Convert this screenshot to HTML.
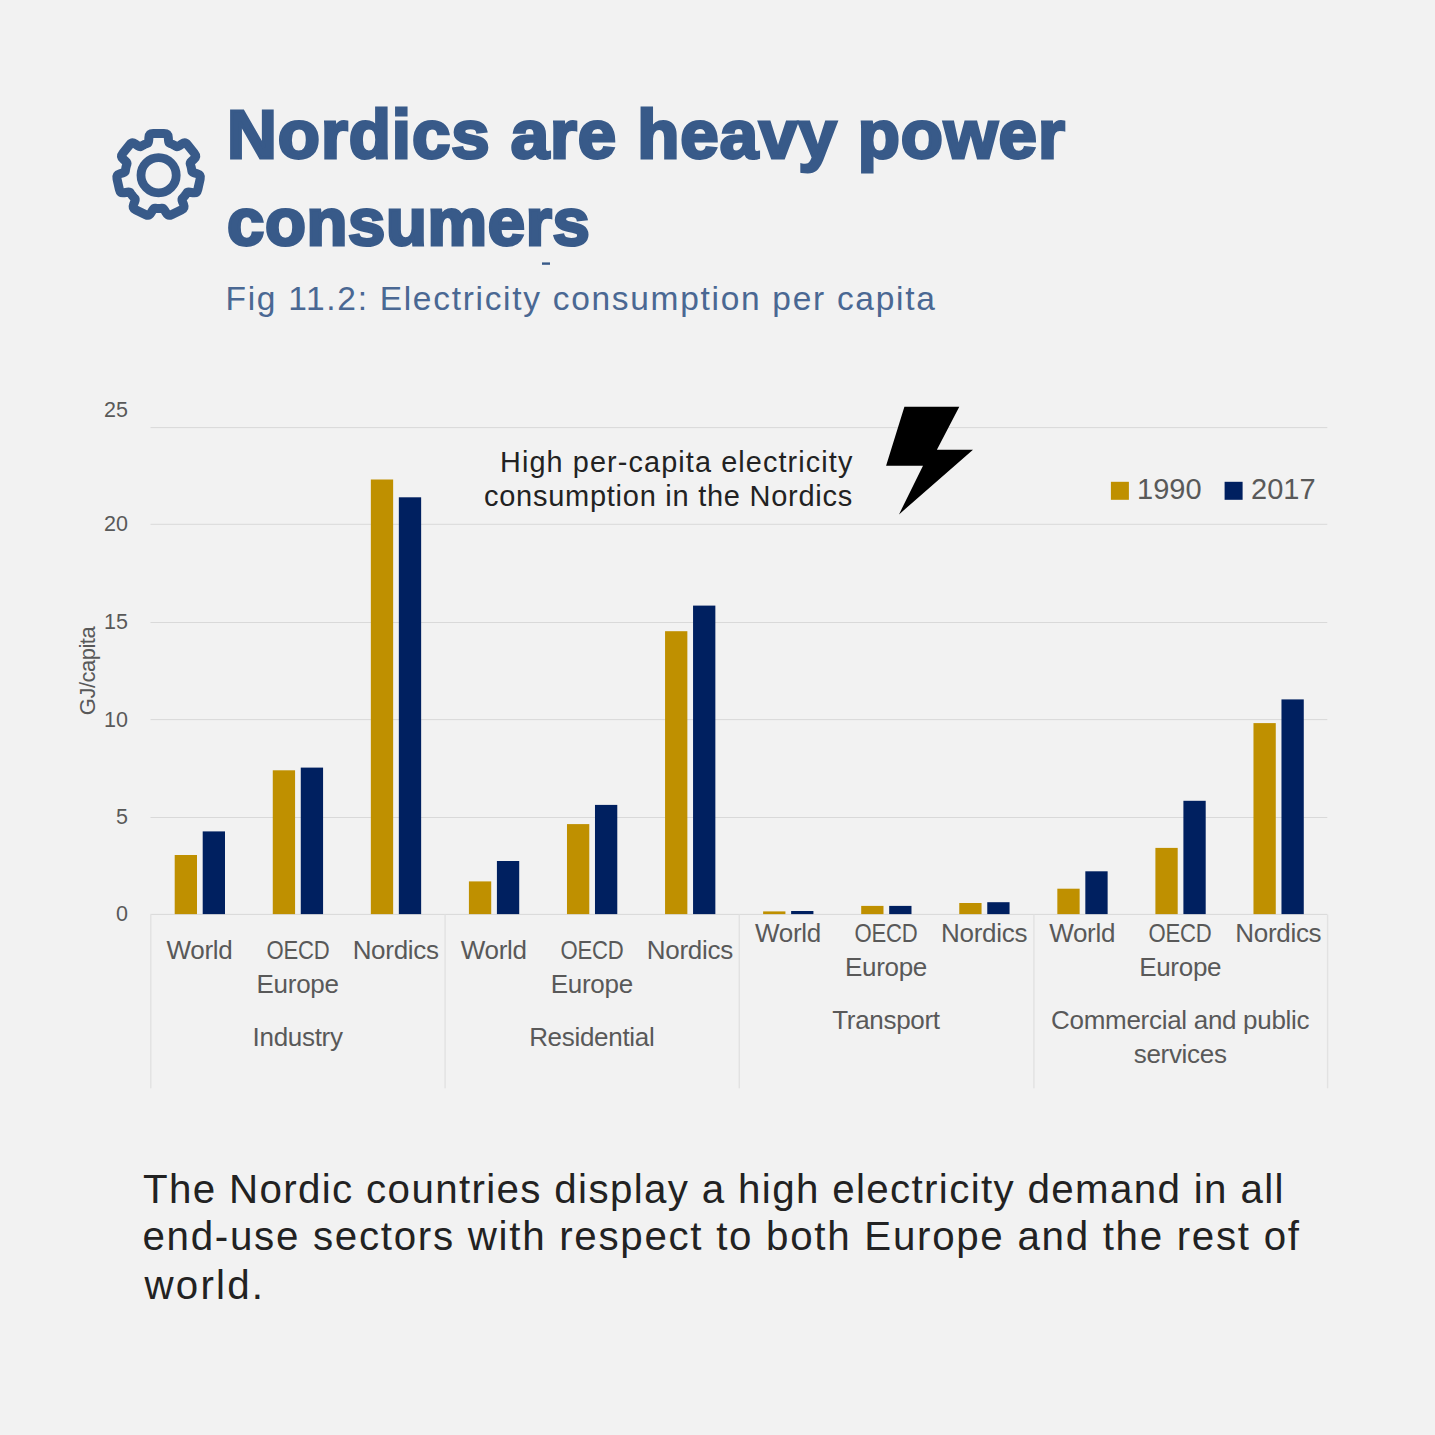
<!DOCTYPE html>
<html><head><meta charset="utf-8"><style>
html,body{margin:0;padding:0;}
body{width:1435px;height:1435px;background:#F2F2F2;position:relative;overflow:hidden;font-family:"Liberation Sans", sans-serif;}
div{font-family:"Liberation Sans", sans-serif;}
</style></head><body>
<svg style="position:absolute;left:0;top:0" width="1435" height="400" viewBox="0 0 1435 400"><path d="M147.40 143.35 Q148.53 142.95 148.70 140.46 L148.91 137.45 Q149.18 133.46 153.18 133.46 L164.02 133.46 Q168.02 133.46 168.29 137.45 L168.50 140.46 Q168.67 142.95 169.80 143.35 L170.94 143.75 L173.14 144.72 L175.26 145.84 L176.28 146.47 Q177.30 147.10 179.36 145.68 L181.84 143.97 Q185.13 141.70 187.63 144.83 L194.38 153.29 Q196.87 156.42 193.93 159.13 L191.70 161.17 Q189.86 162.86 190.25 163.99 L190.64 165.13 L191.26 167.45 L191.71 169.80 L191.85 171.00 Q191.99 172.19 194.38 172.91 L197.27 173.78 Q201.10 174.94 200.21 178.84 L197.80 189.40 Q196.91 193.30 192.96 192.68 L189.98 192.22 Q187.51 191.83 186.86 192.84 L186.22 193.86 L184.79 195.79 L183.23 197.61 L182.38 198.46 Q181.54 199.31 182.46 201.64 L183.58 204.44 Q185.07 208.15 181.46 209.89 L171.70 214.59 Q168.10 216.32 166.12 212.85 L164.62 210.23 Q163.39 208.06 162.19 208.19 L161.00 208.31 L158.60 208.40 L156.20 208.31 L155.01 208.19 Q153.81 208.06 152.58 210.23 L151.08 212.85 Q149.10 216.32 145.50 214.59 L135.74 209.89 Q132.13 208.15 133.62 204.44 L134.74 201.64 Q135.66 199.31 134.82 198.46 L133.97 197.61 L132.41 195.79 L130.98 193.86 L130.34 192.84 Q129.69 191.83 127.22 192.22 L124.24 192.68 Q120.29 193.30 119.40 189.40 L116.99 178.84 Q116.10 174.94 119.93 173.78 L122.82 172.91 Q125.21 172.19 125.35 171.00 L125.49 169.80 L125.94 167.45 L126.56 165.13 L126.95 163.99 Q127.34 162.86 125.50 161.17 L123.27 159.13 Q120.33 156.42 122.82 153.29 L129.57 144.83 Q132.07 141.70 135.36 143.97 L137.84 145.68 Q139.90 147.10 140.92 146.47 L141.94 145.84 L144.06 144.72 L146.26 143.75 Z" fill="none" stroke="#385A89" stroke-width="9" stroke-linejoin="round"/><circle cx="158.6" cy="175.2" r="17.6" fill="none" stroke="#385A89" stroke-width="8.8"/><rect x="542" y="262.4" width="8" height="2.4" fill="#385A89"/></svg>
<div style="position:absolute;top:99.79px;font-size:69px;line-height:69px;color:#385A89;font-weight:700;letter-spacing:0.95px;white-space:nowrap;left:227.00px;-webkit-text-stroke:3px #385A89;">Nordics are heavy power</div>
<div style="position:absolute;top:188.28px;font-size:67px;line-height:67px;color:#385A89;font-weight:700;letter-spacing:0.66px;white-space:nowrap;left:227.00px;-webkit-text-stroke:3px #385A89;">consumers</div>
<div style="position:absolute;top:281.64px;font-size:33.5px;line-height:33.5px;color:#4A6893;font-weight:400;letter-spacing:1.7px;white-space:nowrap;left:225.50px;">Fig 11.2: Electricity consumption per capita</div>
<div style="position:absolute;top:1169.59px;font-size:40.3px;line-height:40.3px;color:#222;font-weight:400;letter-spacing:1.35px;white-space:nowrap;left:143.00px;">The Nordic countries display a high electricity demand in all</div>
<div style="position:absolute;top:1217.39px;font-size:40.3px;line-height:40.3px;color:#222;font-weight:400;letter-spacing:1.71px;white-space:nowrap;left:142.50px;">end-use sectors with respect to both Europe and the rest of</div>
<div style="position:absolute;top:1265.59px;font-size:40.3px;line-height:40.3px;color:#222;font-weight:400;letter-spacing:2.2px;white-space:nowrap;left:144.50px;">world.</div>
<div style="position:absolute;top:448.42px;font-size:28.8px;line-height:28.8px;color:#222;font-weight:400;letter-spacing:1.12px;white-space:nowrap;right:581.50px;text-align:right;">High per-capita electricity</div>
<div style="position:absolute;top:481.75px;font-size:29px;line-height:29px;color:#222;font-weight:400;letter-spacing:0.74px;white-space:nowrap;right:582.00px;text-align:right;">consumption in the Nordics</div>
<div style="position:absolute;top:475.45px;font-size:29px;line-height:29px;color:#595959;font-weight:400;letter-spacing:0px;white-space:nowrap;left:1137.00px;">1990</div>
<div style="position:absolute;top:475.45px;font-size:29px;line-height:29px;color:#595959;font-weight:400;letter-spacing:0px;white-space:nowrap;left:1251.00px;">2017</div>
<div style="position:absolute;top:400.30px;font-size:21.5px;line-height:21.5px;color:#595959;font-weight:400;letter-spacing:0px;white-space:nowrap;right:1307.00px;text-align:right;">25</div>
<div style="position:absolute;top:514.30px;font-size:21.5px;line-height:21.5px;color:#595959;font-weight:400;letter-spacing:0px;white-space:nowrap;right:1307.00px;text-align:right;">20</div>
<div style="position:absolute;top:611.80px;font-size:21.5px;line-height:21.5px;color:#595959;font-weight:400;letter-spacing:0px;white-space:nowrap;right:1307.00px;text-align:right;">15</div>
<div style="position:absolute;top:709.80px;font-size:21.5px;line-height:21.5px;color:#595959;font-weight:400;letter-spacing:0px;white-space:nowrap;right:1307.00px;text-align:right;">10</div>
<div style="position:absolute;top:806.80px;font-size:21.5px;line-height:21.5px;color:#595959;font-weight:400;letter-spacing:0px;white-space:nowrap;right:1307.00px;text-align:right;">5</div>
<div style="position:absolute;top:904.40px;font-size:21.5px;line-height:21.5px;color:#595959;font-weight:400;letter-spacing:0px;white-space:nowrap;right:1307.00px;text-align:right;">0</div>
<div style="position:absolute;top:937.29px;font-size:26px;line-height:26px;color:#595959;font-weight:400;letter-spacing:-0.3px;white-space:nowrap;left:139.53px;width:120px;text-align:center;">World</div>
<div style="position:absolute;top:937.29px;font-size:26px;line-height:26px;color:#595959;font-weight:400;letter-spacing:-0.3px;white-space:nowrap;left:237.61px;width:120px;text-align:center;transform:scaleX(0.85);">OECD</div>
<div style="position:absolute;top:970.99px;font-size:26px;line-height:26px;color:#595959;font-weight:400;letter-spacing:-0.3px;white-space:nowrap;left:237.61px;width:120px;text-align:center;">Europe</div>
<div style="position:absolute;top:937.29px;font-size:26px;line-height:26px;color:#595959;font-weight:400;letter-spacing:-0.3px;white-space:nowrap;left:335.67px;width:120px;text-align:center;">Nordics</div>
<div style="position:absolute;top:1024.49px;font-size:26px;line-height:26px;color:#595959;font-weight:400;letter-spacing:-0.3px;white-space:nowrap;left:147.60px;width:300px;text-align:center;">Industry</div>
<div style="position:absolute;top:937.29px;font-size:26px;line-height:26px;color:#595959;font-weight:400;letter-spacing:-0.3px;white-space:nowrap;left:433.74px;width:120px;text-align:center;">World</div>
<div style="position:absolute;top:937.29px;font-size:26px;line-height:26px;color:#595959;font-weight:400;letter-spacing:-0.3px;white-space:nowrap;left:531.80px;width:120px;text-align:center;transform:scaleX(0.85);">OECD</div>
<div style="position:absolute;top:970.99px;font-size:26px;line-height:26px;color:#595959;font-weight:400;letter-spacing:-0.3px;white-space:nowrap;left:531.80px;width:120px;text-align:center;">Europe</div>
<div style="position:absolute;top:937.29px;font-size:26px;line-height:26px;color:#595959;font-weight:400;letter-spacing:-0.3px;white-space:nowrap;left:629.88px;width:120px;text-align:center;">Nordics</div>
<div style="position:absolute;top:1024.49px;font-size:26px;line-height:26px;color:#595959;font-weight:400;letter-spacing:-0.3px;white-space:nowrap;left:441.80px;width:300px;text-align:center;">Residential</div>
<div style="position:absolute;top:920.39px;font-size:26px;line-height:26px;color:#595959;font-weight:400;letter-spacing:-0.3px;white-space:nowrap;left:727.93px;width:120px;text-align:center;">World</div>
<div style="position:absolute;top:920.39px;font-size:26px;line-height:26px;color:#595959;font-weight:400;letter-spacing:-0.3px;white-space:nowrap;left:826.00px;width:120px;text-align:center;transform:scaleX(0.85);">OECD</div>
<div style="position:absolute;top:954.49px;font-size:26px;line-height:26px;color:#595959;font-weight:400;letter-spacing:-0.3px;white-space:nowrap;left:826.00px;width:120px;text-align:center;">Europe</div>
<div style="position:absolute;top:920.39px;font-size:26px;line-height:26px;color:#595959;font-weight:400;letter-spacing:-0.3px;white-space:nowrap;left:924.07px;width:120px;text-align:center;">Nordics</div>
<div style="position:absolute;top:1007.19px;font-size:26px;line-height:26px;color:#595959;font-weight:400;letter-spacing:-0.3px;white-space:nowrap;left:736.00px;width:300px;text-align:center;">Transport</div>
<div style="position:absolute;top:920.39px;font-size:26px;line-height:26px;color:#595959;font-weight:400;letter-spacing:-0.3px;white-space:nowrap;left:1022.13px;width:120px;text-align:center;">World</div>
<div style="position:absolute;top:920.39px;font-size:26px;line-height:26px;color:#595959;font-weight:400;letter-spacing:-0.3px;white-space:nowrap;left:1120.20px;width:120px;text-align:center;transform:scaleX(0.85);">OECD</div>
<div style="position:absolute;top:954.49px;font-size:26px;line-height:26px;color:#595959;font-weight:400;letter-spacing:-0.3px;white-space:nowrap;left:1120.20px;width:120px;text-align:center;">Europe</div>
<div style="position:absolute;top:920.39px;font-size:26px;line-height:26px;color:#595959;font-weight:400;letter-spacing:-0.3px;white-space:nowrap;left:1218.27px;width:120px;text-align:center;">Nordics</div>
<div style="position:absolute;top:1007.19px;font-size:26px;line-height:26px;color:#595959;font-weight:400;letter-spacing:-0.3px;white-space:nowrap;left:1030.20px;width:300px;text-align:center;">Commercial and public</div>
<div style="position:absolute;top:1041.29px;font-size:26px;line-height:26px;color:#595959;font-weight:400;letter-spacing:-0.3px;white-space:nowrap;left:1030.20px;width:300px;text-align:center;">services</div>
<svg style="position:absolute;left:0;top:0" width="1435" height="1435" viewBox="0 0 1435 1435"><rect x="150.5" y="427.10" width="1176.80" height="1" fill="#D9D9D9"/><rect x="150.5" y="523.80" width="1176.80" height="1" fill="#D9D9D9"/><rect x="150.5" y="622.00" width="1176.80" height="1" fill="#D9D9D9"/><rect x="150.5" y="719.10" width="1176.80" height="1" fill="#D9D9D9"/><rect x="150.5" y="817.00" width="1176.80" height="1" fill="#D9D9D9"/><rect x="150.5" y="913.90" width="1176.80" height="1" fill="#D9D9D9"/><rect x="150.10" y="914.5" width="1.4" height="173.80" fill="#E2E2E2"/><rect x="444.40" y="914.5" width="1.4" height="173.80" fill="#E2E2E2"/><rect x="738.60" y="914.5" width="1.4" height="173.80" fill="#E2E2E2"/><rect x="1033.20" y="914.5" width="1.4" height="173.80" fill="#E2E2E2"/><rect x="1326.90" y="914.5" width="1.4" height="173.80" fill="#E2E2E2"/><rect x="174.70" y="855.00" width="22.3" height="59.10" fill="#BF9000"/><rect x="202.70" y="831.40" width="22.3" height="82.70" fill="#002060"/><rect x="272.77" y="770.30" width="22.3" height="143.80" fill="#BF9000"/><rect x="300.77" y="767.60" width="22.3" height="146.50" fill="#002060"/><rect x="370.84" y="479.50" width="22.3" height="434.60" fill="#BF9000"/><rect x="398.84" y="497.30" width="22.3" height="416.80" fill="#002060"/><rect x="468.91" y="881.40" width="22.3" height="32.70" fill="#BF9000"/><rect x="496.91" y="861.00" width="22.3" height="53.10" fill="#002060"/><rect x="566.98" y="824.10" width="22.3" height="90.00" fill="#BF9000"/><rect x="594.98" y="804.90" width="22.3" height="109.20" fill="#002060"/><rect x="665.05" y="631.20" width="22.3" height="282.90" fill="#BF9000"/><rect x="693.05" y="605.60" width="22.3" height="308.50" fill="#002060"/><rect x="763.12" y="911.40" width="22.3" height="2.70" fill="#BF9000"/><rect x="791.12" y="911.00" width="22.3" height="3.10" fill="#002060"/><rect x="861.19" y="905.90" width="22.3" height="8.20" fill="#BF9000"/><rect x="889.19" y="905.90" width="22.3" height="8.20" fill="#002060"/><rect x="959.26" y="903.00" width="22.3" height="11.10" fill="#BF9000"/><rect x="987.26" y="902.20" width="22.3" height="11.90" fill="#002060"/><rect x="1057.33" y="888.70" width="22.3" height="25.40" fill="#BF9000"/><rect x="1085.33" y="871.30" width="22.3" height="42.80" fill="#002060"/><rect x="1155.40" y="847.90" width="22.3" height="66.20" fill="#BF9000"/><rect x="1183.40" y="800.80" width="22.3" height="113.30" fill="#002060"/><rect x="1253.47" y="723.10" width="22.3" height="191.00" fill="#BF9000"/><rect x="1281.47" y="699.40" width="22.3" height="214.70" fill="#002060"/><rect x="1110.9" y="481.8" width="18" height="18" fill="#BF9000"/><rect x="1224.6" y="481.8" width="18" height="18" fill="#002060"/><polygon points="904.4,406.8 959.3,406.8 936.9,449.8 973.0,449.8 899.0,514.4 923.0,465.7 886.1,465.7" fill="#000"/></svg>
<div style="position:absolute;left:-12.5px;top:660.0px;width:200px;height:22px;line-height:22px;text-align:center;font-size:22px;color:#595959;letter-spacing:-0.5px;transform:rotate(-90deg);white-space:nowrap">GJ/capita</div>
</body></html>
